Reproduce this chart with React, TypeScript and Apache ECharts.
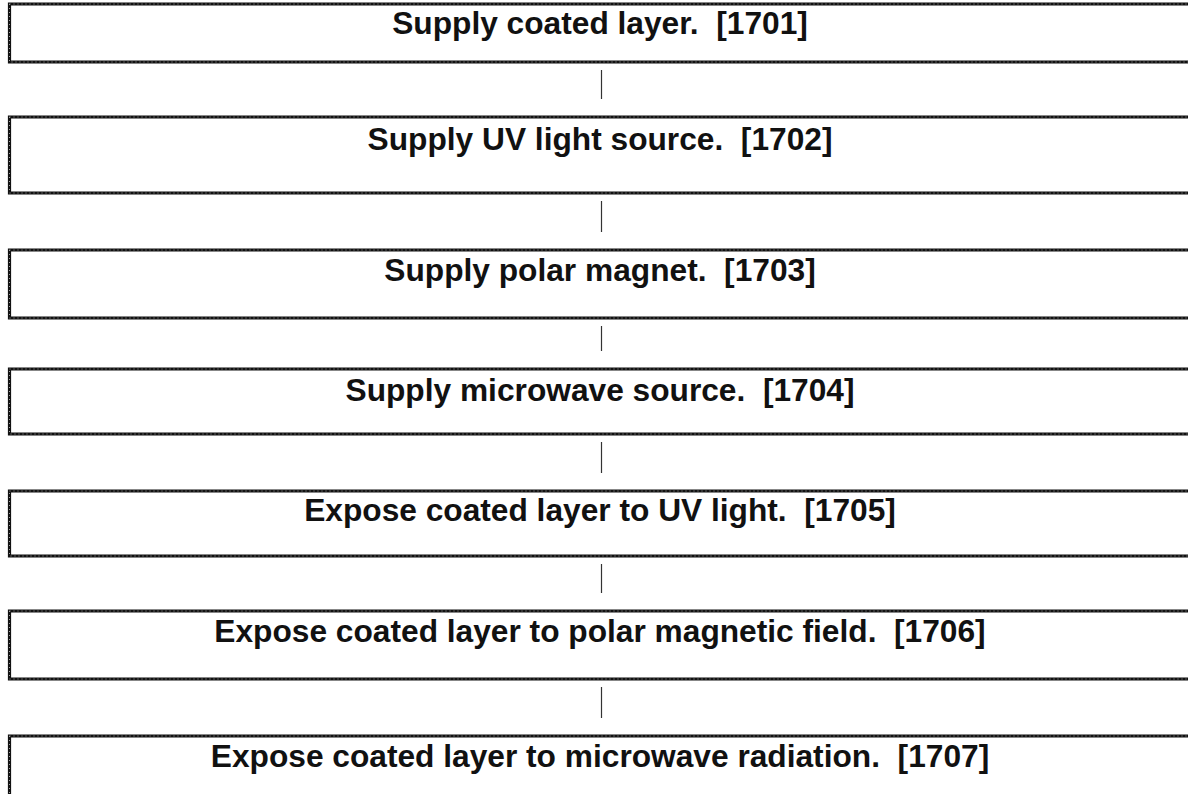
import React, { useEffect, useRef } from "react";
import * as echarts from "echarts";

const stepTexts = [
  "Supply coated layer.",
  "Supply UV light source.",
  "Supply polar magnet.",
  "Supply microwave source.",
  "Expose coated layer to UV light.",
  "Expose coated layer to polar magnetic field.",
  "Expose coated layer to microwave radiation.",
];
const stepRefs = ["1701", "1702", "1703", "1704", "1705", "1706", "1707"];

// layout (pixels)
const boxTops = [4, 117, 250, 369, 491, 611, 736];
const boxBottoms = [62, 193, 318, 434, 556, 679, 830];
const textMiddles = [23, 139, 270, 390, 510, 631, 756];
const boxLeft = 9.5;
const boxRight = 1220;
const textX = 600;
const connectorX = 601.5;

export default function App() {
  const ref = useRef<HTMLDivElement>(null);
  useEffect(() => {
    if (!ref.current) return;
    const chart = echarts.init(ref.current, null, { renderer: "svg", width: 1188, height: 794 });
    const elements: any[] = [];
    stepTexts.forEach((t, i) => {
      const top = boxTops[i];
      const bottom = boxBottoms[i];
      elements.push({
        type: "rect",
        shape: { x: boxLeft, y: top, width: boxRight - boxLeft, height: bottom - top },
        style: { fill: "#ffffff", stroke: "#111111", lineWidth: 3.2 },
      });
      elements.push({
        type: "rect",
        shape: { x: boxLeft, y: top, width: boxRight - boxLeft, height: bottom - top },
        style: { fill: "none", stroke: "#a0a0a0", lineWidth: 1, lineDash: [1, 3] },
      });
      elements.push({
        type: "text",
        x: textX,
        y: textMiddles[i],
        style: {
          text: t + "  [" + stepRefs[i] + "]",
          font: 'bold 31.7px "Liberation Sans", Arial, sans-serif',
          fill: "#111111",
          align: "center",
          verticalAlign: "middle",
        },
      });
      if (i < stepTexts.length - 1) {
        elements.push({
          type: "line",
          shape: { x1: connectorX, y1: bottom + 8, x2: connectorX, y2: boxTops[i + 1] - 18 },
          style: { stroke: "#333333", lineWidth: 1.2 },
        });
      }
    });
    chart.setOption({
      animation: false,
      backgroundColor: "#ffffff",
      graphic: { elements },
    });
    return () => chart.dispose();
  }, []);
  return (
    <div
      ref={ref}
      style={{ position: "fixed", left: 0, top: 0, width: 1188, height: 794, background: "#fff" }}
    />
  );
}
